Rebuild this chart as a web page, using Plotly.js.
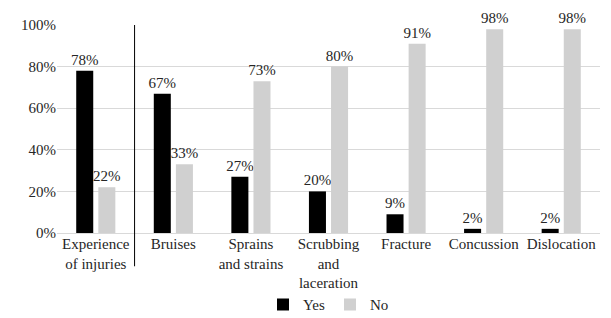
<!DOCTYPE html>
<html><head><meta charset="utf-8">
<script src="https://cdn.plot.ly/plotly-3.0.1.min.js"></script>
<style>html,body{margin:0;padding:0;background:#fff;}#chart{width:611px;height:318px;}</style>
</head><body><div id="chart"></div>
<script>
const categories = ["Experience<br>of injuries","Bruises","Sprains<br>and strains","Scrubbing<br>and<br>laceration","Fracture","Concussion","Dislocation"];
const yesValues = [0.78,0.67,0.27,0.20,0.09,0.02,0.02];
const noValues = [0.22,0.33,0.73,0.80,0.91,0.98,0.98];
const tickVals = [0,0.2,0.4,0.6,0.8,1.0];
const tickText = ["0%","20%","40%","60%","80%","100%"];

const FAM = "Liberation Serif";
function mkFont(){ return {family:FAM, size:15, color:"#262626"}; }
const traces = [
  {type:"bar", name:"Yes", x:categories, y:yesValues, marker:{color:"#000000"},
   text:yesValues.map(v=>Math.round(v*100)+"%"), textposition:"outside", cliponaxis:false, constraintext:"none",
   textfont:mkFont()},
  {type:"bar", name:"No", x:categories, y:noValues, marker:{color:"#d0d0d0"},
   text:noValues.map(v=>Math.round(v*100)+"%"), textposition:"outside", cliponaxis:false, constraintext:"none",
   textfont:mkFont()}
];
const layout = {
  width:611, height:318, margin:{l:57,r:11,t:25,b:85,autoexpand:false},
  paper_bgcolor:"#fff", plot_bgcolor:"#fff", font:mkFont(),
  barmode:"group", bargap:0.43, bargroupgap:0.23,
  showlegend:true,
  legend:{orientation:"h", x:0.5, xanchor:"center", y:-0.345, yanchor:"middle", font:mkFont(), itemwidth:30, tracegroupgap:0},
  xaxis:{showgrid:false, zeroline:false, showline:false, ticks:"", tickfont:mkFont(), tickangle:0, automargin:false},
  yaxis:{range:[0,1], tickvals:tickVals, ticktext:tickText, showgrid:true, gridcolor:"#d9d9d9", gridwidth:1,
         zeroline:true, zerolinecolor:"#d9d9d9", showline:false, ticks:"", tickfont:mkFont(), automargin:false},
  shapes:[{type:"line", xref:"x", yref:"paper", x0:0.5, x1:0.5, y0:-0.16, y1:1, line:{color:"#000", width:1}}]
};
Plotly.newPlot("chart", traces, layout, {staticPlot:true, displayModeBar:false});
</script></body></html>
